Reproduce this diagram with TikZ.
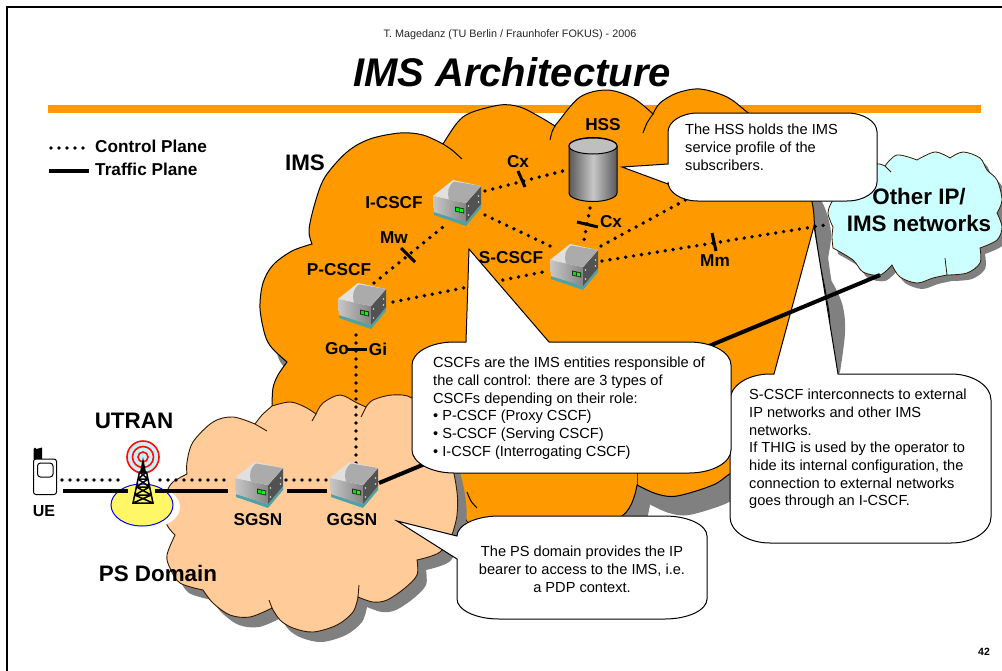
\documentclass[tikz,border=0pt]{standalone}
\usepackage{fontspec}
\setmainfont{Liberation Sans}
\definecolor{imsorange}{HTML}{FF9900}
\definecolor{pscloud}{HTML}{FFCC99}
\definecolor{othercloud}{HTML}{CCFFFF}
\definecolor{shadowgray}{HTML}{808080}
\definecolor{basecolor}{HTML}{4FA3A8}
\tikzset{sm/.style={smooth,tension=.55}}
\def\imsPath{plot[sm] coordinates {(312,244)(309,230)(315,203)(325,177)(347,152)(370,139)(400,133)(423,135)(443,144)}
 -- plot[sm] coordinates {(443,144)(457,123)(470,113)(500,105)(520,107)(540,117)(555,126)}
 -- plot[sm] coordinates {(555,126)(558,122)(580,97)(607,90)(633,98)(653,114)}
 -- plot[sm] coordinates {(653,114)(660,103)(677,93)(700,89)(727,97)(747,112)(775,135)(800,170)(812,202)(815,230)(819.5,262)(826.5,298)(829,330)(815,390)(790,425)(760,455)(731,473)(713,485)(677,496)(657,494)(637,485)}
 -- plot[sm] coordinates {(637,485)(622,516)(560,535)(480,535)(440,480)(330,420)(272,407)}
 -- plot[sm] coordinates {(272,407)(273,388)(278,375)(287,362)}
 -- plot[sm] coordinates {(287,362)(272,348)(265,335)(260,308)(263,283)(273,265)(292,251)(312,244)} -- cycle}
\def\psPath{plot[sm] coordinates {(272,406)(290,402)(305,407)(316,414)}
 -- plot[sm] coordinates {(316,414)(323,403)(340,395)(357,403)(366,407)}
 -- plot[sm] coordinates {(366,407)(373,400)(392,395)(412,398)(430,420)(450,460)(457,492)(457,515)(453,532)}
 -- plot[sm] coordinates {(453,532)(440,552)(417,560)}
 -- plot[sm] coordinates {(417,560)(417,575)(405,588)(387,600)(373,602)(358,597)}
 -- plot[sm] coordinates {(358,597)(353,612)(337,625)(313,632)(293,628)(280,620)(272,608)}
 -- plot[sm] coordinates {(272,608)(250,617)(230,615)(213,603)(203,590)}
 -- plot[sm] coordinates {(203,590)(180,583)(170,568)(167,555)(175,535)}
 -- plot[sm] coordinates {(175,535)(167,525)(165,510)(167,492)(173,482)(187,474)}
 -- plot[sm] coordinates {(187,474)(187,462)(193,442)(213,422)(233,417)(255,424)}
 -- plot[sm] coordinates {(255,424)(262,415)(272,406)} -- cycle}
\def\otherPath{plot[sm] coordinates {(885,166)(897,155)(917,160)}
 -- plot[sm] coordinates {(917,160)(935,152)(950,158)}
 -- plot[sm] coordinates {(950,158)(963,152)(980,158)(987,170)(997,180)(1002,200)(997,213)}
 -- plot[sm] coordinates {(997,213)(1002,227)(997,240)(980,248)}
 -- plot[sm] coordinates {(980,248)(980,263)(967,273)(947,275)}
 -- plot[sm] coordinates {(947,275)(933,278)(917,283)(900,277)(892,265)}
 -- plot[sm] coordinates {(892,265)(880,275)(863,272)(853,260)(833,248)}
 -- plot[sm] coordinates {(833,248)(832,237)(833,227)}
 -- plot[sm] coordinates {(833,227)(828,213)(833,200)(843,190)(870,165)(885,166)} -- cycle}
\def\bubble#1#2#3#4#5#6#7#8{(#1+#5,#2) #7 -- (#3-#5,#2) .. controls (#3-.45*#5,#2) and (#3,#2+.45*#6) .. (#3,#2+#6) -- (#3,#4-#6) .. controls (#3,#4-.45*#6) and (#3-.45*#5,#4) .. (#3-#5,#4) -- (#1+#5,#4) .. controls (#1+.45*#5,#4) and (#1,#4-.45*#6) .. (#1,#4-#6) #8 -- (#1,#2+#6) .. controls (#1,#2+.45*#6) and (#1+.45*#5,#2) .. (#1+#5,#2) -- cycle}
\tikzset{
 ctrl/.style={line width=3.8pt,line cap=round,dash pattern=on 0pt off 8pt},
 traffic/.style={line width=4pt},
 tick/.style={line width=3pt},
 lab/.style={font=\fontsize{17.2}{20}\selectfont\bfseries,inner sep=0pt},
 biglab/.style={font=\fontsize{22.4}{27}\selectfont\bfseries,inner sep=0pt},
 calltext/.style={font=\fontsize{14.6}{17.7}\selectfont,inner sep=0pt,anchor=north west,align=left},
 bubbleshape/.style={fill=white,draw=black,line width=1pt},
 srvnode/.style={minimum width=48pt,minimum height=46pt,inner sep=0pt},
 srvicon/.pic={
  \fill[basecolor] (-23,9) -- (9,19) -- (24,1) -- (24,5) -- (9,23) -- (-23,12) -- cycle;
  \shade[left color=black!22,right color=black!48] (-24,-7) -- (9,0) -- (9,19) -- (-23,9) -- cycle;
  \fill[black!68] (9,0) -- (24,-17) -- (24,1) -- (9,19) -- cycle;
  \fill[black!12] (-24,-7) -- (-4,-23) -- (24,-17) -- (9,0) -- cycle;
  \fill[black!33] (-3,-21.5) .. controls (-9,-17) and (-10,-11) .. (-8,-3.5) -- (9,0) -- (24,-17) -- cycle;
  \fill[black!85] (-2,3.5) -- (7,5.5) -- (7,10.5) -- (-2,8.5) -- cycle;
  \fill[green!90!black] (-.8,4.7) -- (2,5.3) -- (2,8.6) -- (-.8,8) -- cycle;
  \fill[green] (3.2,5.6) -- (6,6.2) -- (6,9.5) -- (3.2,8.9) -- cycle;
  \fill[black!15] (11.5,3) circle (.8) (21.5,-7) circle (.8) (11.5,12) circle (.8) (21.5,-1) circle (.8);
 }
}
\begin{document}
\begin{tikzpicture}[x=1pt,y=-1pt]
\useasboundingbox (0,0) rectangle (1002,670);
\clip (0,0) rectangle (1002,670);
\fill[white] (0,0) rectangle (1002,670);
\draw[line width=2pt] (7,680) -- (7,7) -- (1010,7);

\node[inner sep=0pt,font=\fontsize{10.8}{12}\selectfont,text=black!85] (credit) at (510,35) {T. Magedanz (TU Berlin / Fraunhofer FOKUS) - 2006};
\node[inner sep=0pt,font=\fontsize{40}{44}\selectfont\bfseries\itshape] (title) at (512,72) {IMS Architecture};
\fill[imsorange] (48,105) rectangle (981,113);

% legend
\coordinate (legdotA) at (51,148); \coordinate (legdotB) at (87,148);
\coordinate (legsolA) at (49,171); \coordinate (legsolB) at (89,171);
\draw[ctrl] (legdotA) -- (legdotB);
\draw[traffic] (legsolA) -- (legsolB);
\node[lab,anchor=west] (legctrl) at (95,146) {Control Plane};
\node[lab,anchor=west] (legtraf) at (95,169) {Traffic Plane};

% IMS cloud
\fill[shadowgray,shift={(12,19)}] \imsPath;
\fill[shadowgray] (640,490) -- (650,505) -- (647,520) -- (625,520) -- cycle;
\fill[shadowgray] plot[smooth,tension=.6] coordinates {(812,202)(822,202)(831,233)(827,270)(835,287)(843,307)(845,333)(840,372)} -- (838,374) -- cycle;
\path[fill=imsorange,draw=black,line width=1pt] \imsPath;
\draw[line width=1pt] plot[smooth] coordinates {(443,144)(452,150)(462,159)};
\draw[line width=1pt] plot[smooth] coordinates {(555,126)(552,132)(550,140)};
\draw[line width=1pt] plot[smooth] coordinates {(653,114)(647,123)(643,133)};
\draw[line width=1pt] plot[smooth] coordinates {(637,473)(637,485)};
\draw[line width=1pt] plot[smooth] coordinates {(467,492)(471,501)(477,508)};

% PS cloud
\fill[shadowgray,shift={(9,10)}] \psPath;
\path[fill=pscloud,draw=black!80!orange,line width=.9pt] \psPath;
\draw[line width=.9pt,black!80!orange] (316,414) -- (312,421) (366,407) -- (361,417) (358,597) -- (359,585) (272,608) -- (269,600) (255,424) -- (267,431);

% yellow cell
\fill[white] (149,507) ellipse (31 and 21);
\path[fill=yellow!60!white,draw=blue,line width=1pt] (142,505) ellipse (31 and 21);

% equipment positions
\node[srvnode] (icscf) at (457,203) {};
\node[srvnode] (pcscf) at (362,306) {};
\node[srvnode] (scscf) at (574,267) {};
\node[srvnode] (sgsn) at (259,485) {};
\node[srvnode] (ggsn) at (354,485) {};
\node[minimum width=48pt,minimum height=72pt,inner sep=0pt] (hss) at (593,170) {};
\node[minimum width=24pt,minimum height=48pt,inner sep=0pt] (ue) at (45,477) {};
\node[minimum width=36pt,minimum height=50pt,inner sep=0pt] (tower) at (143,480) {};
\coordinate (other) at (919,220);
\coordinate (asend) at (700,192);

% control plane inside IMS
\draw[ctrl] ([shift={(12,-23)}]pcscf.center) -- ([shift={(-14,24)}]icscf.center);
\draw[ctrl] ([shift={(31,-4)}]pcscf.center) -- ([shift={(-31,5)}]scscf.center);
\draw[ctrl] ([shift={(28,12)}]icscf.center) -- ([shift={(-24,-21)}]scscf.center);
\draw[ctrl] ([shift={(28,-12)}]icscf.center) -- ([shift={(-30,1)}]hss.center);
\draw[ctrl] ([shift={(-3,38)}]hss.center) -- ([shift={(10,-27)}]scscf.center);
\draw[ctrl] ([shift={(27,-21)}]scscf.center) -- (asend);
\draw[ctrl] ([shift={(2,-22)}]ggsn.center) -- ([shift={(-6,27)}]pcscf.center);

\draw[tick] (401,248) -- (415,262);
\draw[tick] (518,171) -- (525,187);
\draw[tick] (577,222) -- (598,227);
\draw[tick] (348,349) -- (367,349);

% S-CSCF note
\path[bubbleshape] \bubble{730}{374}{991}{543}{40}{26}{-- (774,374) -- (814,226) -- (838,374)}{};

% other networks
\fill[shadowgray,shift={(5,6)}] \otherPath;
\path[fill=othercloud,draw=black!80!orange,line width=.8pt] \otherPath;
\draw[line width=.8pt,black!80!orange] (885,166) -- (891,172) (947,275) -- (945,258);

% connectors over the S-CSCF note
\draw[ctrl] ([shift={(28,-6)}]scscf.center) -- ([shift={(-94,5)}]other);
\draw[tick] (712,233) -- (716,251);
\draw[traffic] ([shift={(25,-2)}]ggsn.center) -- ([shift={(-39,55)}]other);

% access
\draw[ctrl] ([shift={(17,3)}]ue.center) -- ([shift={(-22,0)}]tower.center);
\draw[ctrl] ([shift={(17,0)}]tower.center) -- ([shift={(-30,-5)}]sgsn.center);
\draw[ctrl] ([shift={(27,-5)}]sgsn.center) -- ([shift={(-26,-5)}]ggsn.center);
\draw[traffic] ([shift={(18,14)}]ue.center) -- ([shift={(-15,11)}]tower.center);
\draw[traffic] ([shift={(12,11)}]tower.center) -- ([shift={(-31,6)}]sgsn.center);
\draw[traffic] ([shift={(28,6)}]sgsn.center) -- ([shift={(-27,6)}]ggsn.center);

% icons
\pic at (icscf) {srvicon};
\pic at (pcscf) {srvicon};
\pic at (scscf) {srvicon};
\pic at (sgsn) {srvicon};
\pic at (ggsn) {srvicon};

% HSS cylinder
\shade[left color=black!65,right color=black!65,middle color=black!22,draw=black,line width=1pt]
 (569,146) -- (569,193) arc[start angle=180,end angle=360,x radius=24,y radius=-8.5] -- (617,146) arc[start angle=0,end angle=180,x radius=24,y radius=-8.5] -- cycle;
\path[fill=black!25,draw=black,line width=1pt] (593,146) ellipse (24 and 8);

% phone
\fill[black] (33.5,459) -- (33.5,449) arc[start angle=180,end angle=0,x radius=1.5,y radius=-1.5] -- (42,447.5) -- (42,462) -- cycle;
\path[fill=white,draw=black,line width=1pt,rounded corners=2.5pt] (33.5,459) -- (56.5,459) -- (56.5,494.5) -- (33.5,494.5) -- cycle;
\path[draw=black,line width=1pt,rounded corners=3pt] (37.5,463) rectangle (53,477);

% tower
\path[fill=cyan!20!white,draw=red!90!orange,line width=1.6pt] (143,457) circle (16);
\draw[red!90!orange,line width=1.6pt] (143,457) circle (10.5);
\draw[red!90!orange,line width=1.6pt] (143,457) circle (5);
\fill[black] (143,457) -- (146,472) -- (140,472) -- cycle;
\draw[line width=1.5pt,line join=miter] (139.5,472) -- (133,503) -- (153,503) -- (146.5,472) -- cycle
 (138,479) -- (148,479) (136.4,487) -- (149.6,487) (134.7,495) -- (151.3,495)
 (139.5,472) -- (148,479) (146.5,472) -- (138,479)
 (138,479) -- (149.6,487) (148,479) -- (136.4,487)
 (136.4,487) -- (151.3,495) (149.6,487) -- (134.7,495)
 (134.7,495) -- (153,503) (151.3,495) -- (133,503);

% CSCF note
\path[bubbleshape] \bubble{412}{342}{731}{473}{42}{23}{-- (466,342) -- (469,249) -- (549,342)}{};
% HSS note
\path[bubbleshape] \bubble{668}{113}{877}{201}{30}{19}{}{-- (668,184) -- (622,167) -- (668,164)};
% PS note
\path[bubbleshape] \bubble{457}{516}{707}{619}{42}{20}{}{-- (457,559) -- (397,521) -- (457,536)};

% note texts
\node[calltext] (txthss) at (685,124) {The HSS holds the IMS\\service profile of the\\subscribers.};
\node[calltext] (txtcscf) at (433,357) {CSCFs are the IMS entities responsible of\\the call control: there are 3 types of\\CSCFs depending on their role:\\• P-CSCF (Proxy CSCF)\\• S-CSCF (Serving CSCF)\\• I-CSCF (Interrogating CSCF)};
\node[calltext] (txtscscf) at (749,389) {S-CSCF interconnects to external\\IP networks and other IMS\\networks.\\If THIG is used by the operator to\\hide its internal configuration, the\\connection to external networks\\goes through an I-CSCF.};
\node[calltext,anchor=north,align=center] (txtps) at (582,546) {The PS domain provides the IP\\bearer to access to the IMS, i.e.\\a PDP context.};

% labels
\node[biglab] (lblims) at (305,163) {IMS};
\node[lab] (lblicscf) at (394,203) {I-CSCF};
\node[lab] (lblpcscf) at (339,270) {P-CSCF};
\node[lab] (lblscscf) at (511,258) {S-CSCF};
\node[lab] (lblhss) at (603,125) {HSS};
\node[lab] (lblmw) at (394,238) {Mw};
\node[lab] (lblcxa) at (518,162) {Cx};
\node[lab] (lblcxb) at (611,222) {Cx};
\node[lab] (lblmm) at (715,261) {Mm};
\node[lab] (lblgo) at (337,349) {Go};
\node[lab] (lblgi) at (378,349) {Gi};
\node[lab] (lblsgsn) at (258,520) {SGSN};
\node[lab] (lblggsn) at (352,520) {GGSN};
\node[lab,font=\fontsize{16}{18}\selectfont\bfseries] (lblue) at (44,511) {UE};
\node[biglab] (lblutran) at (134,421) {UTRAN};
\node[biglab] (lblps) at (158,573) {PS Domain};
\node[biglab,align=center] (lblother) at (919,210) {Other IP/\\IMS networks};
\node[inner sep=0pt,font=\fontsize{10.5}{12}\selectfont\bfseries] (pageno) at (984,652) {42};
\end{tikzpicture}
\end{document}
